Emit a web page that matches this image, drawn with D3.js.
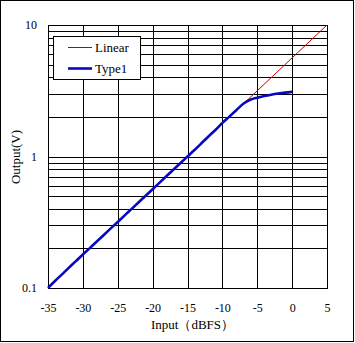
<!DOCTYPE html>
<html>
<head>
<meta charset="utf-8">
<script src="https://cdn.jsdelivr.net/npm/d3@7"></script>
<style>
  html, body { margin: 0; padding: 0; background: #fff; }
  svg { display: block; }
  text { font-family: "Liberation Serif", "Times New Roman", serif; fill: #000; }
</style>
</head>
<body>
<svg id="chart" width="355" height="343"></svg>
<script>
// Input level (dBFS) sampled every 1 dB
const inputDb = [-35,-34,-33,-32,-31,-30,-29,-28,-27,-26,-25,-24,-23,-22,-21,-20,
                 -19,-18,-17,-16,-15,-14,-13,-12,-11,-10,-9,-8,-7,-6,-5,-4,-3,-2,-1,0];
// Type1 output voltage (V)
const type1Out = [0.100,0.113,0.127,0.143,0.160,0.180,0.201,0.226,0.253,0.284,0.318,0.357,0.400,0.449,0.503,0.564,
                  0.633,0.710,0.796,0.893,1.00,1.12,1.26,1.42,1.59,1.80,2.01,2.25,2.52,2.70,2.80,2.88,2.95,3.01,3.06,3.10];
// Linear reference: end points of the straight line
const linearDb = [-35, 5];
const linearOut = [0.1, 10];

const xTicks = [-35,-30,-25,-20,-15,-10,-5,0,5];
const yLabelTicks = [0.1, 1, 10];
const yGridTicks = [0.1,0.2,0.3,0.4,0.5,0.6,0.7,0.8,0.9,1,2,3,4,5,6,7,8,9,10];

const seriesNames = ["Linear", "Type1"];
const seriesColors = ["#c00000", "#0808c0"];

const svg = d3.select("#chart");
const plot = { left: 48, right: 327, top: 25, bottom: 288 };

const x = d3.scaleLinear().domain([-35, 5]).range([plot.left, plot.right]);
const y = d3.scaleLog().domain([0.1, 10]).range([plot.bottom, plot.top]);

// outer frame
svg.append("rect")
  .attr("x", 0.5).attr("y", 0.5).attr("width", 353).attr("height", 341)
  .attr("fill", "#fff").attr("stroke", "#000").attr("stroke-width", 1);

// grid
const grid = svg.append("g").attr("shape-rendering", "crispEdges")
  .attr("stroke", "#000").attr("stroke-width", 1);
grid.selectAll("line.v").data(xTicks).join("line")
  .attr("class", "v")
  .attr("x1", d => Math.round(x(d)) + 0.5).attr("x2", d => Math.round(x(d)) + 0.5)
  .attr("y1", plot.top).attr("y2", plot.bottom);
grid.selectAll("line.h").data(yGridTicks).join("line")
  .attr("class", "h")
  .attr("y1", d => Math.round(y(d)) + 0.5).attr("y2", d => Math.round(y(d)) + 0.5)
  .attr("x1", plot.left).attr("x2", plot.right + 1);

// tick labels via d3 axes (axis lines removed, grid drawn separately)
const xAxis = svg.append("g")
  .attr("transform", `translate(0,${plot.bottom})`)
  .call(d3.axisBottom(x).tickValues(xTicks).tickSize(0).tickPadding(15).tickFormat(d => String(d)));
xAxis.select(".domain").remove();
xAxis.selectAll("text").attr("font-size", 12).attr("font-family", "Liberation Serif");

const yAxis = svg.append("g")
  .attr("transform", `translate(${plot.left},0)`)
  .call(d3.axisLeft(y).tickValues(yLabelTicks).tickSize(0).tickPadding(11).tickFormat(d => d < 1 ? "0.1" : String(d)));
yAxis.select(".domain").remove();
yAxis.selectAll("text").attr("font-size", 12).attr("font-family", "Liberation Serif");

// series
const line = d3.line().x(d => x(d[0])).y(d => y(d[1]));
svg.append("path")
  .datum(linearDb.map((d, i) => [d, linearOut[i]]))
  .attr("d", line).attr("fill", "none")
  .attr("stroke", seriesColors[0]).attr("stroke-width", 1);
svg.append("path")
  .datum(inputDb.map((d, i) => [d, type1Out[i]]))
  .attr("d", line.curve(d3.curveMonotoneX)).attr("fill", "none")
  .attr("stroke", seriesColors[1]).attr("stroke-width", 2.6)
  .attr("stroke-linejoin", "round");

// legend
const legend = svg.append("g");
legend.append("rect")
  .attr("x", 53.5).attr("y", 36.5).attr("width", 87).attr("height", 43)
  .attr("fill", "#fff").attr("stroke", "#000").attr("stroke-width", 1);
const legendRows = [47.5, 68.5];
seriesNames.forEach((name, i) => {
  legend.append("line")
    .attr("x1", 68).attr("x2", 92).attr("y1", legendRows[i]).attr("y2", legendRows[i])
    .attr("stroke", seriesColors[i]).attr("stroke-width", i === 0 ? 1 : 2.6);
  legend.append("text")
    .attr("x", 95).attr("y", legendRows[i] + 4.5)
    .attr("font-size", 13).text(name);
});

// axis titles
svg.append("text")
  .attr("x", 151).attr("y", 329)
  .attr("font-size", 13)
  .text("Input（dBFS）");
svg.append("text")
  .attr("transform", "translate(20,157) rotate(-90)")
  .attr("text-anchor", "middle")
  .attr("font-size", 13).text("Output(V)");
</script>
</body>
</html>
